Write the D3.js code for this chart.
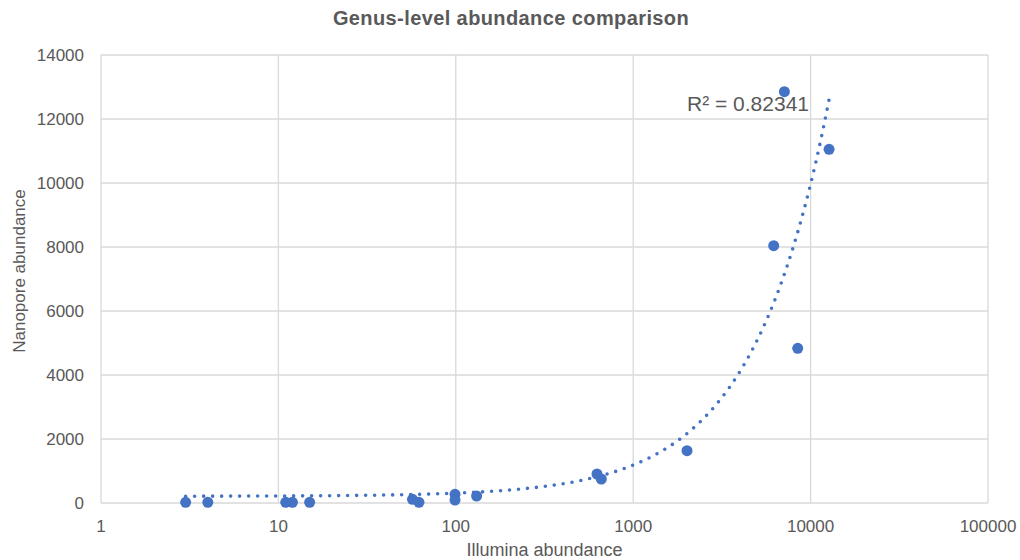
<!DOCTYPE html>
<html>
<head>
<meta charset="utf-8">
<script src="https://cdn.jsdelivr.net/npm/d3@7"></script>
<style>
  body { margin: 0; background: #fff; }
  svg { font-family: "Liberation Sans", Arial, sans-serif; }
</style>
</head>
<body>
<div id="chart"></div>
<script>
// Illumina vs Nanopore genus counts
const illumina = [3, 4, 11, 12, 15, 57, 62, 99, 99, 131, 625, 661, 2011, 6194, 7117, 8460, 12710];
const nanopore = [22, 22, 22, 22, 22, 115, 22, 272, 94, 219, 906, 750, 1634, 8040, 12853, 4834, 11053];
const xTicks = [1, 10, 100, 1000, 10000, 100000];
const yTicks = [0, 2000, 4000, 6000, 8000, 10000, 12000, 14000];
const r2Label = 'R² = 0.82341';

const width = 1020, height = 560;
const margin = { top: 55, right: 32, bottom: 57, left: 101 };
const blue = '#4472C4', grey = '#595959', gridColor = '#d9d9d9';

const svg = d3.select('#chart').append('svg')
  .attr('width', width)
  .attr('height', height);

const x = d3.scaleLog()
  .domain([1, 100000])
  .range([margin.left, width - margin.right]);

const y = d3.scaleLinear()
  .domain([0, 14000])
  .range([height - margin.bottom, margin.top]);

// grid
svg.append('g')
  .selectAll('line')
  .data(yTicks)
  .join('line')
  .attr('x1', x(1)).attr('x2', x(100000))
  .attr('y1', d => y(d)).attr('y2', d => y(d))
  .attr('stroke', gridColor)
  .attr('stroke-width', 1.3);

svg.append('g')
  .selectAll('line')
  .data(xTicks)
  .join('line')
  .attr('x1', d => x(d)).attr('x2', d => x(d))
  .attr('y1', y(0)).attr('y2', y(14000))
  .attr('stroke', gridColor)
  .attr('stroke-width', 1.3);

// tick labels
svg.append('g')
  .selectAll('text')
  .data(yTicks)
  .join('text')
  .attr('x', 84)
  .attr('y', d => y(d) + 6)
  .attr('text-anchor', 'end')
  .attr('font-size', 17)
  .attr('fill', grey)
  .text(d => d);

svg.append('g')
  .selectAll('text')
  .data(xTicks)
  .join('text')
  .attr('x', d => x(d))
  .attr('y', 532)
  .attr('text-anchor', 'middle')
  .attr('font-size', 17)
  .attr('fill', grey)
  .text(d => d);

// linear trendline (least squares), drawn over the log x axis
const mx = d3.mean(illumina), my = d3.mean(nanopore);
let sxy = 0, sxx = 0;
illumina.forEach((v, i) => {
  sxy += (v - mx) * (nanopore[i] - my);
  sxx += (v - mx) * (v - mx);
});
const slope = sxy / sxx;
const intercept = my - slope * mx;

const [xMin, xMax] = d3.extent(illumina);
const trendXs = d3.range(0, 201).map(i => xMin * Math.pow(xMax / xMin, i / 200));

svg.append('path')
  .datum(trendXs)
  .attr('fill', 'none')
  .attr('stroke', blue)
  .attr('stroke-width', 3.6)
  .attr('stroke-linecap', 'round')
  .attr('stroke-dasharray', '0 9')
  .attr('d', d3.line()
    .x(d => x(d))
    .y(d => y(intercept + slope * d)));

// points
svg.append('g')
  .selectAll('circle')
  .data(illumina)
  .join('circle')
  .attr('cx', d => x(d))
  .attr('cy', (d, i) => y(nanopore[i]))
  .attr('r', 5.5)
  .attr('fill', blue);

svg.append('text')
  .attr('x', 687)
  .attr('y', 111)
  .attr('font-size', 21)
  .attr('fill', grey)
  .text(r2Label);

// titles
svg.append('text')
  .attr('x', 511)
  .attr('y', 25)
  .attr('text-anchor', 'middle')
  .attr('font-size', 20)
  .attr('font-weight', 'bold')
  .attr('letter-spacing', 0.4)
  .attr('fill', grey)
  .text('Genus-level abundance comparison');

svg.append('text')
  .attr('x', (x(1) + x(100000)) / 2)
  .attr('y', 556)
  .attr('text-anchor', 'middle')
  .attr('font-size', 18)
  .attr('fill', grey)
  .text('Illumina abundance');

svg.append('text')
  .attr('transform', 'translate(25,271) rotate(-90)')
  .attr('text-anchor', 'middle')
  .attr('font-size', 17)
  .attr('fill', grey)
  .text('Nanopore abundance');
</script>
</body>
</html>
